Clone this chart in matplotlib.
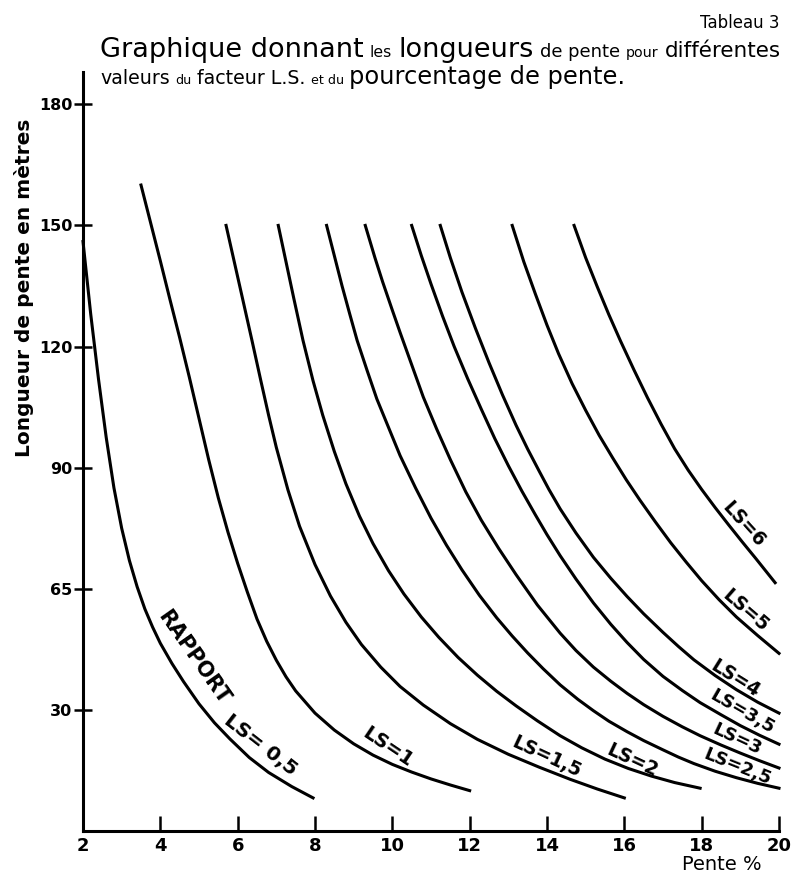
import matplotlib
matplotlib.use("Agg")
import matplotlib.pyplot as plt
from matplotlib.transforms import IdentityTransform

plt.rcParams['font.family'] = ['DejaVu Sans']

# pente % (x) / longueur de pente en metres (y), lues sur chaque courbe
ls05_x = [2.0, 2.2, 2.4, 2.6, 2.8, 3.0, 3.2, 3.4, 3.6, 3.8, 4.0, 4.3, 4.6, 5.0, 5.4, 5.8, 6.3, 6.8, 7.4, 7.95]
ls05_y = [146, 128, 112, 97.5, 85, 75, 67, 60.5, 55, 50.5, 46.5, 41.5, 37, 31.5, 26.8, 22.8, 18.2, 14.5, 11, 8.2]

ls1_x = [3.5, 3.75, 4.0, 4.25, 4.5, 4.75, 5.0, 5.25, 5.5, 5.75, 6.0, 6.25, 6.5, 6.75, 7.0,
         7.25, 7.5, 8.0, 8.5, 9.0, 9.5, 10.0, 10.5, 11.0, 11.5, 12.0]
ls1_y = [160, 150.6, 141.2, 131.6, 122.2, 112.4, 102.2, 92, 82.5, 74, 66.3, 59.2, 52.5, 47, 42.3,
         38.2, 34.7, 29.2, 25, 21.6, 18.8, 16.5, 14.6, 12.9, 11.4, 10.0]

ls15_x = [5.7, 5.9, 6.1, 6.37, 6.6, 6.8, 7.0, 7.3, 7.6, 8.0, 8.4, 8.8, 9.2, 9.7, 10.2, 10.8,
          11.5, 12.2, 13.0, 13.8, 14.6, 15.3, 16.0]
ls15_y = [150, 141.5, 133, 121.5, 111.5, 103, 95, 84.5, 75.5, 66, 58.2, 51.7, 46.2, 40.6, 35.8, 31.2,
          26.6, 22.7, 19, 15.8, 12.8, 10.4, 8.2]

ls2_x = [7.05, 7.25, 7.45, 7.69, 7.95, 8.2, 8.5, 8.8, 9.15, 9.5, 9.9, 10.3, 10.75, 11.2, 11.7,
         12.2, 12.7, 13.2, 13.75, 14.34, 14.9, 15.5, 16.1, 16.7, 17.3, 17.96]
ls2_y = [150, 141, 132, 121.5, 111.5, 103, 94, 86, 78, 71.2, 64.5, 58.7, 53, 48, 43,
         38.6, 34.6, 31, 27.3, 23.6, 20.6, 17.8, 15.5, 13.6, 12, 10.6]

ls25_x = [8.3, 8.5, 8.7, 8.9, 9.09, 9.35, 9.6, 9.9, 10.2, 10.6, 11.0, 11.4, 11.8, 12.25, 12.7,
          13.1, 13.5, 13.9, 14.34, 14.8, 15.2, 15.6, 16.07, 16.5, 17.0, 17.4, 17.8, 18.35,
          18.9, 19.45, 20.0]
ls25_y = [150, 142.5, 135, 128, 121.5, 114, 107, 100, 93, 85, 77.5, 70.8, 64.7, 58.4, 52.8,
          48.3, 44.1, 40.2, 36.2, 32.6, 29.8, 27.2, 24.6, 22.4, 20.1, 18.3, 16.7, 14.8,
          13.2, 11.8, 10.6]

ls3_x = [9.3, 9.55, 9.75, 10.0, 10.2, 10.5, 10.8, 11.15, 11.5, 11.9, 12.3, 12.75, 13.2, 13.75,
         14.34, 14.75, 15.2, 15.65, 16.07, 16.5, 17.0, 17.5, 17.96, 18.5, 19.0, 19.5, 20.0]
ls3_y = [150, 142, 136, 129, 123.5, 115.5, 107.5, 99.5, 92, 84, 77, 70, 63.5, 56,
         49, 44.7, 40.6, 37.1, 34.1, 31.3, 28.4, 25.8, 23.6, 21.3, 19.3, 17.4, 15.6]

ls35_x = [10.5, 10.75, 11.0, 11.3, 11.6, 11.95, 12.3, 12.65, 13.0, 13.35, 13.7, 14.0, 14.34,
          14.75, 15.2, 15.65, 16.07, 16.5, 17.0, 17.5, 17.96, 18.5, 19.0, 19.5, 20.0]
ls35_y = [150, 142.5, 135.5, 127.5, 120, 112, 104.5, 97.2, 90.5, 84.2, 78.3, 73.4, 68.2,
          62.4, 56.5, 51.2, 46.7, 42.5, 38.3, 34.8, 31.8, 28.8, 26.1, 23.7, 21.5]

ls4_x = [11.24, 11.5, 11.8, 12.15, 12.5, 12.85, 13.2, 13.5, 13.8, 14.05, 14.34, 14.75, 15.2,
         15.65, 16.07, 16.5, 17.0, 17.4, 17.8, 18.35, 18.9, 19.45, 20.0]
ls4_y = [150, 142, 133.5, 124.5, 116, 108, 100.5, 94.6, 89.1, 84.6, 79.8, 73.8, 67.8,
         62.6, 58.1, 53.8, 49.2, 45.7, 42.4, 38.5, 35, 31.9, 29.2]

ls5_x = [13.1, 13.4, 13.7, 14.0, 14.3, 14.65, 15.0, 15.35, 15.7, 16.05, 16.4, 16.8, 17.2,
         17.6, 18.0, 18.45, 18.9, 19.45, 20.0]
ls5_y = [150, 141, 133, 125.3, 118.2, 110.8, 104.2, 98, 92.4, 87, 82, 76.6, 71.4,
         66.6, 62, 57.3, 53, 48.4, 44]

ls6_x = [14.7, 15.0, 15.3, 15.6, 15.9, 16.25, 16.6, 16.95, 17.3, 17.65, 18.0, 18.35, 18.7,
         19.05, 19.4, 19.9]
ls6_y = [150, 142, 134.8, 127.9, 121.4, 114.2, 107.3, 100.8, 94.7, 89.4, 84.6, 80.1, 75.8,
         71.6, 67.5, 61.5]

curves = [(ls05_x, ls05_y), (ls1_x, ls1_y), (ls15_x, ls15_y), (ls2_x, ls2_y),
          (ls25_x, ls25_y), (ls3_x, ls3_y), (ls35_x, ls35_y), (ls4_x, ls4_y),
          (ls5_x, ls5_y), (ls6_x, ls6_y)]

# etiquettes des courbes: texte, x, y, angle
label_txt = ['RAPPORT', 'LS= 0,5', 'LS=1', 'LS=1,5', 'LS=2', 'LS=2,5',
             'LS=3', 'LS=3,5', 'LS=4', 'LS=5', 'LS=6']
label_x = [4.85, 6.58, 9.87, 13.98, 16.2, 18.92, 18.92, 19.05, 18.87, 19.13, 19.08]
label_y = [43.0, 21.2, 20.8, 18.3, 17.5, 15.8, 22.8, 29.5, 37.8, 54.6, 76.0]
label_ang = [-55, -38, -34, -25, -25, -22, -25, -30, -32, -41, -48]
label_fs = [15, 14.5, 14, 13.5, 13.5, 13, 13, 13, 13.5, 13.5, 13.5]

pente_ticks = [2, 4, 6, 8, 10, 12, 14, 16, 18, 20]
longueur_ticks = [30, 60, 90, 120, 150, 180]
longueur_labels = ['30', '65', '90', '120', '150', '180']

fig = plt.figure(figsize=(7.92, 8.75), dpi=100)
ax = fig.add_axes([83 / 792, 44 / 875, 696 / 792, 759 / 875])

for xs, ys in curves:
    ax.plot(xs, ys, color='black', lw=2.2, clip_on=False, solid_joinstyle='round')

for txt, x, y, a, fs in zip(label_txt, label_x, label_y, label_ang, label_fs):
    ax.text(x, y, txt, rotation=a, rotation_mode='anchor', ha='center', va='center',
            fontsize=fs, fontweight='bold')

ax.set_xlim(2, 20)
ax.set_ylim(0, 188)
ax.set_xticks(pente_ticks)
ax.set_xticklabels([str(t) for t in pente_ticks], fontweight='bold')
ax.set_yticks(longueur_ticks)
ax.set_yticklabels(longueur_labels, fontweight='bold')
ax.spines['top'].set_visible(False)
ax.spines['right'].set_visible(False)
ax.spines['left'].set_linewidth(2.2)
ax.spines['bottom'].set_linewidth(2.2)
ax.tick_params(axis='x', direction='in', length=11, width=1.8, labelsize=13, pad=4)
ax.tick_params(axis='y', direction='inout', length=13, width=1.8, labelsize=11.5, pad=1)


def title_line(pieces, x0, x1, base):
    # pose les morceaux bout a bout, puis refait avec une echelle pour tenir entre x0 et x1
    r = fig.canvas.get_renderer()
    scale = 1.0
    for step in range(2):
        x = x0
        texts = []
        for txt, size in pieces:
            t = fig.text(x, base, txt, fontsize=size * scale, ha='left', va='baseline',
                         transform=IdentityTransform())
            x = t.get_window_extent(r).x1 + 6 * scale
            texts.append(t)
        if step == 0:
            width = x - 6 * scale - x0
            for t in texts:
                t.remove()
            scale = (x1 - x0) / width


title_line([("Graphique donnant", 19), ("les", 11), ("longueurs", 19),
            ("de pente", 12.5), ("pour", 10), ("différentes", 15)], 100, 782, 875 - 57)
title_line([("valeurs", 15), ("du", 10), ("facteur L.S.", 15), ("et du", 10),
            ("pourcentage de pente.", 19)], 100, 625, 875 - 84)

fig.text(780, 875 - 28, "Tableau 3", ha='right', va='baseline', fontsize=12,
         transform=IdentityTransform())
fig.text(24, 875 - 288, "Longueur de pente en mètres", rotation=90, ha='center', va='center',
         fontsize=14.5, fontweight='bold', transform=IdentityTransform())
fig.text(722, 875 - 864, "Pente %", ha='center', va='center', fontsize=14,
         transform=IdentityTransform())

fig.savefig('out.png', dpi=100)
